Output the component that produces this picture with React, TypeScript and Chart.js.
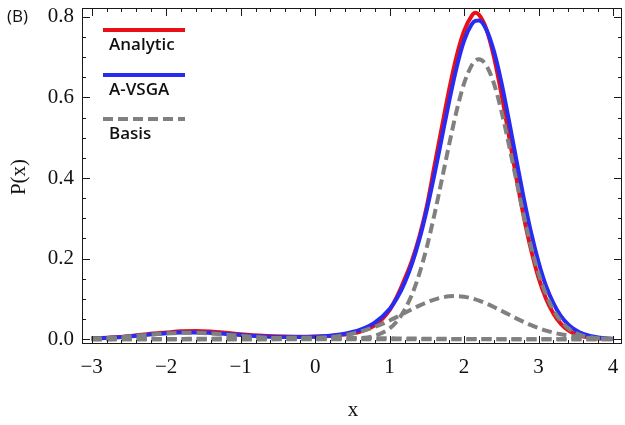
import React, { useEffect, useRef } from 'react';
import { Chart, registerables } from 'chart.js';

Chart.register(...registerables);

// ---- data ----
const xs = [-3.0, -2.75, -2.5, -2.25, -2.0, -1.8, -1.6, -1.4, -1.2, -1.0, -0.7, -0.4, -0.1, 0.2, 0.4, 0.6, 0.8, 1.0, 1.1, 1.2, 1.3, 1.4, 1.5, 1.6, 1.7, 1.8, 1.9, 2.0, 2.1, 2.15, 2.2, 2.3, 2.4, 2.5, 2.6, 2.7, 2.8, 2.9, 3.0, 3.1, 3.2, 3.3, 3.4, 3.5, 3.6, 3.8, 4.0];

const analytic = [0.002, 0.0042, 0.0075, 0.0125, 0.0165, 0.0195, 0.0205, 0.019, 0.016, 0.0125, 0.0085, 0.0065, 0.006, 0.008, 0.0115, 0.0185, 0.034, 0.072, 0.106, 0.148, 0.195, 0.255, 0.33, 0.428, 0.525, 0.62, 0.703, 0.765, 0.802, 0.81, 0.805, 0.769, 0.701, 0.61, 0.507, 0.402, 0.305, 0.221, 0.152, 0.1005, 0.0634, 0.038, 0.0219, 0.012, 0.0063, 0.0015, 0.0003];

const avsga = [0.0015, 0.0035, 0.0068, 0.0108, 0.0146, 0.0165, 0.0168, 0.0154, 0.013, 0.0102, 0.0067, 0.0051, 0.0055, 0.0087, 0.0137, 0.0232, 0.041, 0.075, 0.102, 0.139, 0.187, 0.248, 0.322, 0.407, 0.499, 0.591, 0.675, 0.741, 0.781, 0.79, 0.791, 0.768, 0.715, 0.638, 0.545, 0.447, 0.351, 0.264, 0.191, 0.132, 0.089, 0.057, 0.036, 0.022, 0.013, 0.004, 0.0013];

const basisMain = [0, 0, 0, 0, 0, 0, 0, 0, 0, 0, 0, 0, 0, 0.0001, 0.0005, 0.0021, 0.0082, 0.0267, 0.0449, 0.0723, 0.111, 0.163, 0.229, 0.308, 0.395, 0.484, 0.567, 0.635, 0.679, 0.691, 0.695, 0.679, 0.635, 0.567, 0.484, 0.395, 0.308, 0.229, 0.163, 0.111, 0.0723, 0.0449, 0.0267, 0.0152, 0.0082, 0.0021, 0.0005];

const basisSecond = [0, 0, 0, 0, 0, 0, 0, 0, 0, 0, 0, 0.0004, 0.0015, 0.0051, 0.01, 0.0182, 0.0303, 0.0463, 0.0554, 0.0649, 0.0744, 0.0834, 0.0915, 0.0983, 0.1033, 0.1063, 0.107, 0.1053, 0.1015, 0.0989, 0.0958, 0.0884, 0.0799, 0.0706, 0.0611, 0.0517, 0.0429, 0.0347, 0.0276, 0.0214, 0.0163, 0.0121, 0.0088, 0.0063, 0.0044, 0.002, 0.0008];

const basisLeft = [0.0015, 0.0035, 0.0066, 0.0105, 0.0141, 0.0158, 0.0158, 0.0141, 0.0113, 0.0081, 0.004, 0.0015, 0.0005, 0.0001, 0, 0, 0, 0, 0, 0, 0, 0, 0, 0, 0, 0, 0, 0, 0, 0, 0, 0, 0, 0, 0, 0, 0, 0, 0, 0, 0, 0, 0, 0, 0, 0, 0];

const basisFlat = [0, 0.0001, 0.0002, 0.0003, 0.0005, 0.0007, 0.001, 0.0013, 0.0017, 0.0021, 0.0027, 0.0032, 0.0035, 0.0034, 0.0032, 0.0029, 0.0025, 0.0021, 0.0019, 0.0017, 0.0015, 0.0013, 0.0011, 0.001, 0.0008, 0.0007, 0.0006, 0.0005, 0.0004, 0.0003, 0.0003, 0.0002, 0.0002, 0.0001, 0.0001, 0, 0, 0, 0, 0, 0, 0, 0, 0, 0, 0, 0];

const xTicks = [-3, -2, -1, 0, 1, 2, 3, 4];
const yTicks = [0, 0.2, 0.4, 0.6, 0.8];
const legendLabels = ['Analytic', 'A-VSGA', 'Basis'];
const panelLabel = '(B)';
const xTitle = 'x';
const yTitle = 'P(x)';

const RED = 'rgb(232,16,22)';
const BLUE = 'rgb(40,44,242)';
const GRAY = 'rgb(128,128,128)';

const toPts = (ys: number[]) => xs.map((x, i) => ({ x, y: ys[i] }));

const decorPlugin = {
  id: 'decor',
  afterDraw(chart: any) {
    const { ctx, chartArea: a, scales } = chart;
    const xs_ = scales.x;
    const ys_ = scales.y;
    ctx.save();
    // frame
    ctx.strokeStyle = '#1a1a1a';
    ctx.lineWidth = 1;
    ctx.strokeRect(a.left + 0.5, a.top + 0.5, a.right - a.left - 1, a.bottom - a.top - 1);
    // inward ticks
    ctx.beginPath();
    for (let k = Math.ceil(xs_.min / 0.2); k * 0.2 <= xs_.max + 1e-9; k++) {
      const v = k * 0.2;
      const major = Math.abs(v - Math.round(v)) < 1e-6;
      const len = major ? 8 : 4;
      const p = Math.round(xs_.getPixelForValue(v)) + 0.5;
      ctx.moveTo(p, a.bottom);
      ctx.lineTo(p, a.bottom - len);
      ctx.moveTo(p, a.top);
      ctx.lineTo(p, a.top + len);
    }
    for (let k = Math.ceil(ys_.min / 0.05); k * 0.05 <= ys_.max + 1e-9; k++) {
      const v = k * 0.05;
      const major = k % 4 === 0;
      const len = major ? 8 : 4;
      const p = Math.round(ys_.getPixelForValue(v)) + 0.5;
      ctx.moveTo(a.left, p);
      ctx.lineTo(a.left + len, p);
      ctx.moveTo(a.right, p);
      ctx.lineTo(a.right - len, p);
    }
    ctx.stroke();

    // axis titles
    ctx.fillStyle = '#111';
    ctx.font = '21px "Liberation Serif", serif';
    ctx.textAlign = 'center';
    ctx.textBaseline = 'middle';
    ctx.fillText(xTitle, (a.left + a.right) / 2 + 1, 410);
    ctx.save();
    ctx.translate(19, (a.top + a.bottom) / 2 + 1);
    ctx.rotate(-Math.PI / 2);
    ctx.fillText(yTitle, 0, 0);
    ctx.restore();

    // panel label
    ctx.font = '17px "Open Sans", sans-serif';
    ctx.textAlign = 'left';
    ctx.fillText(panelLabel, 7, 17);

    // legend
    const rows = [22, 67, 111];
    legendLabels.forEach((label, i) => {
      const ds = chart.data.datasets[i];
      const y = a.top + rows[i];
      ctx.save();
      ctx.strokeStyle = ds.borderColor;
      ctx.lineWidth = ds.borderWidth;
      ctx.setLineDash(ds.borderDash || []);
      ctx.beginPath();
      ctx.moveTo(a.left + 21, y);
      ctx.lineTo(a.left + 103, y);
      ctx.stroke();
      ctx.restore();
      ctx.fillStyle = '#111';
      ctx.font = '600 17px "Open Sans", sans-serif';
      ctx.textAlign = 'left';
      ctx.textBaseline = 'middle';
      ctx.fillText(label, a.left + 27, y + 15);
    });
    ctx.restore();
  },
};

export default function App() {
  const ref = useRef<HTMLCanvasElement>(null);
  useEffect(() => {
    if (!ref.current) return;
    const lw = 4;
    const grayDs = (data: number[]) => ({
      label: 'Basis',
      data: toPts(data),
      borderColor: GRAY,
      borderWidth: lw,
      borderDash: [10, 5],
      pointRadius: 0,
      fill: false,
      cubicInterpolationMode: 'monotone' as const,
      order: 0,
    });
    const chart = new Chart(ref.current, {
      type: 'line',
      data: {
        datasets: [
          {
            label: 'Analytic',
            data: toPts(analytic),
            borderColor: RED,
            borderWidth: lw,
            pointRadius: 0,
            fill: false,
            cubicInterpolationMode: 'monotone',
            order: 10,
          },
          {
            label: 'A-VSGA',
            data: toPts(avsga),
            borderColor: BLUE,
            borderWidth: lw,
            pointRadius: 0,
            fill: false,
            cubicInterpolationMode: 'monotone',
            order: 5,
          },
          grayDs(basisMain),
          grayDs(basisSecond),
          grayDs(basisLeft),
          grayDs(basisFlat),
        ] as any,
      },
      options: {
        animation: false,
        responsive: false,
        devicePixelRatio: 1,
        layout: { padding: { top: 8, right: 3, left: 0, bottom: 0 } },
        plugins: { legend: { display: false }, tooltip: { enabled: false } },
        scales: {
          x: {
            type: 'linear',
            min: -3.13,
            max: 4.12,
            grid: { display: false, drawTicks: false },
            border: { display: false },
            afterBuildTicks: (s: any) => {
              s.ticks = xTicks.map((v) => ({ value: v }));
            },
            afterFit: (s: any) => {
              s.height = 81;
              s.paddingLeft = 0;
              s.paddingRight = 0;
            },
            ticks: {
              autoSkip: false,
              maxRotation: 0,
              padding: 11,
              color: '#111',
              font: { family: '"Liberation Serif", serif', size: 21 },
              callback: (v: any) => (v < 0 ? '\u2212' + Math.abs(v) : String(v)),
            },
          },
          y: {
            type: 'linear',
            min: -0.012,
            max: 0.822,
            grid: { display: false, drawTicks: false },
            border: { display: false },
            afterBuildTicks: (s: any) => {
              s.ticks = yTicks.map((v) => ({ value: v }));
            },
            afterFit: (s: any) => {
              s.width = 82;
              s.paddingTop = 0;
              s.paddingBottom = 0;
            },
            ticks: {
              autoSkip: false,
              padding: 8,
              color: '#111',
              font: { family: '"Liberation Serif", serif', size: 21 },
              callback: (v: any) => Number(v).toFixed(1),
            },
          },
        },
      },
      plugins: [decorPlugin],
    });
    return () => chart.destroy();
  }, []);
  return (
    <div style={{ position: 'absolute', left: 0, top: 0, width: 625, height: 425, background: '#fff' }}>
      <canvas ref={ref} width={625} height={425} />
    </div>
  );
}
